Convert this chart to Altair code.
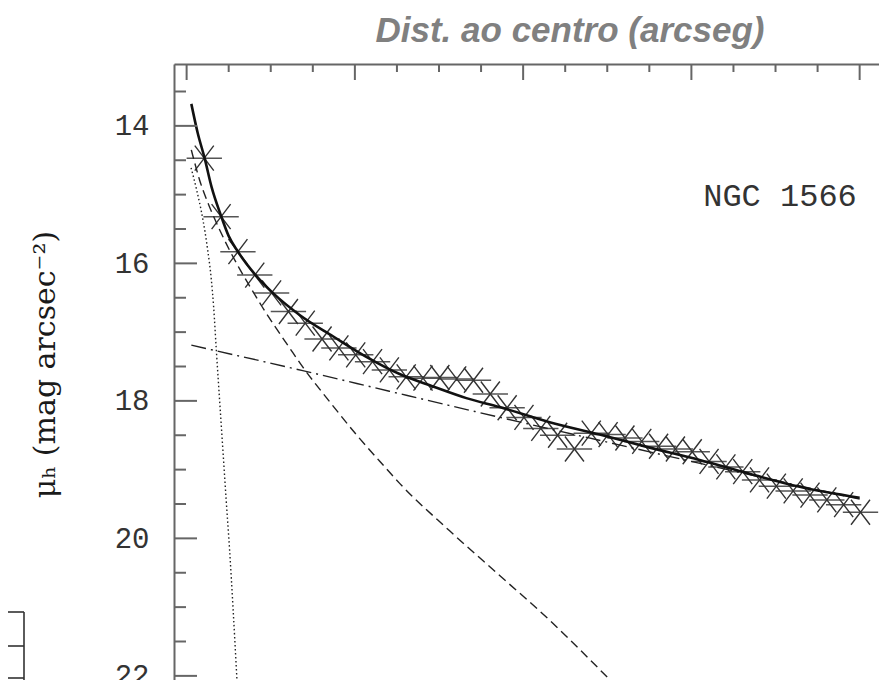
import altair as alt
import pandas as pd

# ---------------- data ----------------
# radius (units of the top axis) and surface brightness of the observed points
point_r = [2.1 + 2 * k for k in range(40)]
point_mu = [14.47, 15.32, 15.83, 16.17, 16.43, 16.70, 16.87, 17.10, 17.23, 17.33,
            17.43, 17.55, 17.65, 17.67, 17.66, 17.68, 17.70, 17.90, 18.10, 18.24,
            18.40, 18.50, 18.70, 18.47, 18.49, 18.54, 18.59, 18.66, 18.70, 18.74,
            18.88, 18.96, 19.03, 19.15, 19.24, 19.31, 19.37, 19.44, 19.51, 19.62]
bar_half_width = 2.1

# total model (solid)
total_r = [0.56, 1.31, 2.14, 2.97, 4.01, 4.99, 6.10, 8.20, 10.34, 13.43, 17.39, 21.36,
           25.32, 29.28, 33.25, 37.21, 43.15, 49.09, 55.04, 60.98, 66.92, 72.87, 80.0]
total_mu = [13.68, 14.10, 14.47, 14.89, 15.28, 15.60, 15.83, 16.17, 16.44, 16.75, 17.06,
            17.36, 17.61, 17.79, 17.96, 18.09, 18.31, 18.49, 18.68, 18.86, 19.06, 19.25, 19.41]

# bulge (dashed)
bulge_r = [0.56, 1.55, 2.73, 3.92, 5.11, 6.30, 7.49, 8.92, 10.46, 12.24, 13.82, 16.99,
           20.17, 23.33, 25.32, 31.26, 37.21, 43.15, 47.90, 50.9]
bulge_mu = [14.35, 14.79, 15.18, 15.51, 15.81, 16.08, 16.33, 16.62, 16.91, 17.23, 17.51,
            18.01, 18.49, 18.93, 19.20, 19.89, 20.54, 21.19, 21.76, 22.13]

# disk (dash-dot)
disk_r = [0.56, 13.8, 24.1, 34.8, 50.0, 65.0, 80.0]
disk_mu = [17.19, 17.56, 17.86, 18.17, 18.60, 19.02, 19.43]

# nucleus (dotted)
nuc_r = [0.53, 1.19, 1.90, 2.50, 2.94, 3.21, 3.53, 3.92, 4.31, 4.70, 5.11, 5.53, 6.00]
nuc_mu = [14.61, 14.93, 15.34, 15.80, 16.24, 16.63, 17.26, 17.99, 18.71, 19.44, 20.17,
          21.04, 22.10]

# axis ticks
y_major = [14, 16, 18, 20, 22]
y_minor = [13.5, 14.5, 15, 15.5, 16.5, 17, 17.5, 18.5, 19, 19.5, 20.5, 21, 21.5]
x_major = [0, 20, 40, 60, 80]
x_minor = [5, 10, 15, 25, 30, 35, 45, 50, 55, 65, 70, 75]

title_text = "Dist. ao centro (arcseg)"
object_label = "NGC 1566"
y_title = "μₕ (mag arcsec⁻²)"

# ---------------- chart ----------------
W, H = 705, 616
LEFT, TOP = 166, 56

xs = alt.Scale(domain=[-1.5, 82.3], nice=False, zero=False)
ys = alt.Scale(domain=[13.1, 22.06], nice=False, zero=False, reverse=True)

pts = pd.DataFrame({"r": point_r, "mu": point_mu})
pts["lo"] = pts["r"] - bar_half_width
pts["hi"] = pts["r"] + bar_half_width

ink = "#222222"
axis_col = "#666666"

bars = alt.Chart(pts).mark_rule(color="#555555", strokeWidth=1.5).encode(
    x=alt.X("lo:Q", scale=xs, axis=alt.Axis(orient="top", labels=False, ticks=False,
                                               domain=True, domainColor=axis_col,
                                               domainWidth=2, grid=False, title=None)),
    x2="hi:Q",
    y=alt.Y("mu:Q", scale=ys, axis=alt.Axis(orient="left", values=y_major, ticks=False,
                                              domain=True, domainColor=axis_col, domainWidth=2,
                                              grid=False, labelFont="Liberation Mono",
                                              labelFontSize=29, labelColor="#333333",
                                              labelPadding=25, format="d",
                                              title=y_title, titleFont="DejaVu Serif",
                                              titleFontSize=30, titleFontWeight="normal",
                                              titleColor="#1a1a1a", titleAngle=270,
                                              titleX=-129, titleY=300, titleAlign="center",
                                              titleBaseline="middle")),
)

marks = alt.Chart(pts).mark_point(
    shape="M-0.76,-1L0.76,1M-0.76,1L0.76,-1", size=625, filled=False,
    color="#333333", strokeWidth=1.4, opacity=1
).encode(x=alt.X("r:Q", scale=xs), y=alt.Y("mu:Q", scale=ys))


def curve(r, mu, **kw):
    df = pd.DataFrame({"r": r, "mu": mu})
    return alt.Chart(df).mark_line(interpolate="monotone", clip=True, **kw).encode(
        x=alt.X("r:Q", scale=xs), y=alt.Y("mu:Q", scale=ys), order="r:Q")


total_line = curve(total_r, total_mu, color="#111111", strokeWidth=2.6)
bulge_line = curve(bulge_r, bulge_mu, color=ink, strokeWidth=1.4, strokeDash=[9, 5])
disk_line = curve(disk_r, disk_mu, color=ink, strokeWidth=1.4, strokeDash=[15, 5, 2, 5])
nuc_line = curve(nuc_r, nuc_mu, color=ink, strokeWidth=1.4, strokeDash=[1.5, 2.5])

# inward ticks
ymaj = alt.Chart(pd.DataFrame({"v": y_major})).mark_rule(color=axis_col, strokeWidth=2).encode(
    y=alt.Y("v:Q", scale=ys), x=alt.value(0), x2=alt.value(23))
ymin = alt.Chart(pd.DataFrame({"v": y_minor})).mark_rule(color=axis_col, strokeWidth=2).encode(
    y=alt.Y("v:Q", scale=ys), x=alt.value(0), x2=alt.value(12))
xmaj = alt.Chart(pd.DataFrame({"v": x_major})).mark_rule(color=axis_col, strokeWidth=2).encode(
    x=alt.X("v:Q", scale=xs), y=alt.value(0), y2=alt.value(16))
xmin = alt.Chart(pd.DataFrame({"v": x_minor})).mark_rule(color=axis_col, strokeWidth=2).encode(
    x=alt.X("v:Q", scale=xs), y=alt.value(0), y2=alt.value(8))

one = pd.DataFrame({"t": [title_text]})
title_mark = alt.Chart(one).mark_text(
    font="Liberation Sans", fontSize=35, fontStyle="italic", fontWeight="bold",
    color="#808080", align="center", baseline="middle"
).encode(text="t:N", x=alt.value(396), y=alt.value(-33))

lab = pd.DataFrame({"t": [object_label]})
label_mark = alt.Chart(lab).mark_text(
    font="Liberation Mono", fontSize=32, color="#333333", align="center", baseline="middle"
).encode(text="t:N", x=alt.value(606), y=alt.value(132))

# fragment of the neighbouring panel frame at the bottom-left
frag = pd.DataFrame({"a": [0]})
frag_style = dict(color="#333333", strokeWidth=1.6)
f1 = alt.Chart(frag).mark_rule(**frag_style).encode(x=alt.value(-180), x2=alt.value(-150), y=alt.value(548))
f2 = alt.Chart(frag).mark_rule(**frag_style).encode(x=alt.value(-150), y=alt.value(548), y2=alt.value(618))
f3 = alt.Chart(frag).mark_rule(**frag_style).encode(x=alt.value(-167), x2=alt.value(-150), y=alt.value(582))
f4 = alt.Chart(frag).mark_rule(**frag_style).encode(x=alt.value(-180), x2=alt.value(-150), y=alt.value(614))

chart = alt.layer(
    bars, marks, disk_line, bulge_line, nuc_line, total_line,
    ymaj, ymin, xmaj, xmin, title_mark, label_mark, f1, f2, f3, f4
).properties(
    width=W, height=H,
    padding={"left": LEFT, "top": TOP, "right": 0, "bottom": 0},
    autosize=alt.AutoSizeParams(type="none"),
).configure_view(stroke=None).configure(background="white")

chart.save("out.html", embed_options={"renderer": "svg", "actions": False})
